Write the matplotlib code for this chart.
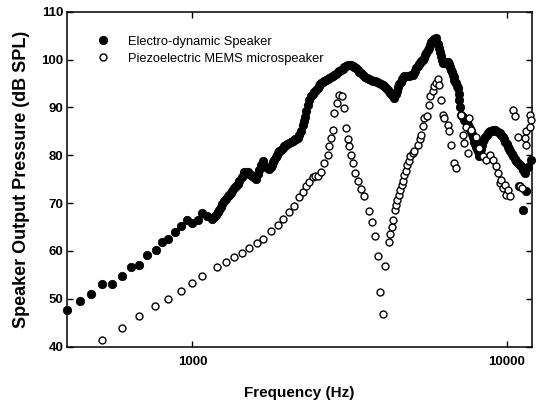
import matplotlib
matplotlib.use("Agg")
import matplotlib.pyplot as plt
from matplotlib.ticker import FixedLocator, NullLocator, FixedFormatter

plt.rcParams['font.family'] = ['Liberation Sans', 'DejaVu Sans']

# Electro-dynamic speaker (frequency Hz, SPL dB)
ed_freq = [400, 438, 477, 517, 556, 599, 637, 677, 719, 764, 803, 839, 881, 919, 960,
           1000, 1040, 1076, 1115, 1158, 1175, 1190, 1203, 1216, 1230, 1245, 1262, 1278,
           1294, 1310, 1325, 1341, 1358, 1375, 1392, 1409, 1435, 1461, 1480, 1500, 1518,
           1535, 1550, 1565, 1580, 1592, 1612, 1631, 1655, 1680, 1710, 1735, 1755, 1772,
           1790, 1805, 1820, 1838, 1855, 1872, 1888, 1910, 1935, 1960, 1984, 2005, 2030,
           2055, 2082, 2100, 2120, 2140, 2160, 2185, 2214, 2240, 2262, 2285, 2305, 2324,
           2355, 2383, 2410, 2440, 2470, 2501, 2525, 2550, 2572, 2594, 2627, 2660, 2693,
           2726, 2758, 2790, 2826, 2862, 2896, 2930, 2967, 3004, 3042, 3080, 3117, 3155,
           3195, 3235, 3275, 3315, 3355, 3395, 3437, 3479, 3535, 3590, 3645, 3700, 3757,
           3815, 3873, 3932, 3980, 4030, 4080, 4130, 4195, 4260, 4325, 4389, 4430, 4470,
           4510, 4553, 4597, 4640, 4680, 4723, 4795, 4870, 4945, 5020, 5065, 5110, 5160,
           5208, 5255, 5300, 5350, 5402, 5450, 5500, 5550, 5603, 5650, 5700, 5755, 5811,
           5885, 5959, 6030, 6106, 6143, 6180, 6218, 6255, 6312, 6370, 6430, 6488, 6530,
           6570, 6610, 6652, 6690, 6730, 6770, 6815, 6860, 6900, 6940, 6982, 7025, 7069,
           7115, 7158, 7245, 7333, 7400, 7470, 7540, 7606, 7655, 7700, 7750, 7794, 7840,
           7890, 7940, 7990, 8040, 8085, 8135, 8185, 8238, 8290, 8340, 8387, 8465, 8540,
           8620, 8700, 8780, 8860, 8940, 9024, 9140, 9253, 9365, 9480, 9595, 9712, 9805,
           9900, 9987, 10074, 10165, 10260, 10355, 10450, 10580, 10713, 10840, 10975, 11110,
           11250, 11386, 10900, 11246, 11500, 11700, 11900]
ed_spl = [47.7, 49.6, 51.1, 53.0, 53.2, 54.7, 56.6, 57.1, 59.2, 60.3, 61.8, 62.5, 63.9, 65.3, 66.4,
          65.8, 66.5, 67.9, 67.3, 66.6, 67.1, 67.6, 68.1, 68.6, 69.2, 69.8, 70.4, 70.9,
          71.4, 71.8, 72.2, 72.6, 73.1, 73.6, 74.1, 74.6, 75.5, 76.4, 76.4, 76.4, 76.1,
          75.9, 75.6, 75.4, 75.2, 75.0, 76.0, 77.0, 77.9, 78.8, 77.5, 77.3, 77.2, 77.6,
          78.0, 78.6, 79.1, 79.6, 80.0, 80.4, 80.8, 81.1, 81.5, 81.9, 82.2, 82.4, 82.6,
          82.8, 82.9, 83.1, 83.3, 83.5, 83.6, 84.2, 85.0, 86.4, 87.2, 88.0, 89.3, 90.6,
          91.5, 92.3, 92.8, 93.2, 93.7, 94.1, 94.5, 94.8, 95.1, 95.4, 95.6, 95.8, 96.0,
          96.1, 96.3, 96.5, 96.8, 97.0, 97.3, 97.6, 97.9, 98.1, 98.4, 98.6, 98.8, 98.9,
          98.8, 98.6, 98.4, 98.2, 97.9, 97.5, 97.1, 96.7, 96.4, 96.2, 96.0, 95.8, 95.6,
          95.5, 95.3, 95.1, 94.8, 94.6, 94.4, 94.1, 93.6, 93.1, 92.6, 92.0, 92.8, 93.5,
          94.2, 94.9, 95.4, 95.9, 96.2, 96.5, 96.5, 96.6, 96.7, 96.8, 97.2, 97.7, 98.2,
          98.6, 99.0, 99.3, 99.6, 99.9, 100.4, 100.9, 101.4, 102.0, 102.5, 103.0, 103.6, 104.1,
          104.3, 104.4, 103.2, 102.4, 101.6, 100.8, 100.0, 99.3, 99.4, 99.4, 99.4, 99.4, 99.1,
          98.8, 98.4, 97.9, 97.3, 96.8, 96.3, 95.8, 95.4, 95.0, 94.5, 94.1, 92.8, 91.6,
          90.0, 88.5, 87.9, 87.4, 87.0, 86.7, 86.4, 86.0, 85.5, 85.0, 84.4, 83.9, 83.3,
          82.8, 82.3, 81.8, 81.3, 80.8, 80.3, 79.8, 80.5, 81.3, 82.1, 82.9, 83.3, 83.8,
          84.2, 84.6, 84.8, 85.0, 85.1, 85.3, 85.2, 85.0, 84.8, 84.6, 84.3, 83.9, 83.4,
          82.8, 82.3, 81.8, 81.3, 80.8, 80.3, 79.8, 79.3, 78.8, 78.4, 78.0, 77.7,
          77.0, 76.3, 73.5, 68.6, 72.5, 77.5, 79.0]

# Piezoelectric MEMS microspeaker (frequency Hz, SPL dB)
pz_freq = [517, 596, 677, 759, 837, 919, 996, 1076, 1201, 1278, 1358, 1436, 1515, 1599,
           1680, 1777, 1865, 1945, 2022, 2098, 2187, 2240, 2295, 2354, 2411, 2459, 2501,
           2565, 2627, 2691, 2726, 2760, 2793, 2828, 2875, 2917, 2990, 3041, 3079, 3115,
           3155, 3195, 3233, 3298, 3354, 3446, 3523, 3636, 3728, 3810, 3883, 3961, 4028,
           4108, 4209, 4253, 4303, 4350, 4405, 4454, 4487, 4543, 4587, 4631, 4679, 4723,
           4775, 4828, 4881, 4935, 5020, 5083, 5208, 5300, 5339, 5402, 5470, 5563, 5645,
           5702, 5811, 5885, 5959, 6030, 6106, 6182, 6255, 6333, 6488, 6569, 6652, 6815,
           6902, 7158, 7243, 7333, 7425, 7512, 7606, 7700, 7990, 8185, 8387, 8600, 8810,
           9024, 9253, 9361, 9480, 9598, 9712, 9833, 9956, 10074, 10200, 10450, 10580,
           10840, 10975, 11194, 11386, 11530, 11810, 11960, 11530, 11810]
pz_spl = [41.3, 43.9, 46.5, 48.4, 50.0, 51.6, 53.4, 54.7, 56.6, 57.8, 58.7, 59.6, 60.6, 61.7,
          62.5, 64.1, 65.5, 66.7, 68.1, 69.4, 71.2, 72.3, 73.5, 74.5, 75.4, 75.6, 75.6,
          76.6, 78.4, 80.1, 81.9, 83.6, 85.3, 88.8, 90.9, 92.6, 92.3, 89.9, 85.7, 83.3,
          81.9, 80.1, 78.4, 76.3, 74.6, 73.0, 71.4, 68.4, 66.0, 63.1, 58.9, 51.4, 46.8,
          56.9, 61.8, 63.5, 65.1, 66.4, 68.6, 69.7, 70.7, 71.7, 72.7, 73.7, 74.7, 75.8,
          76.8, 77.9, 78.9, 79.8, 80.5, 80.8, 82.2, 83.3, 84.3, 86.1, 87.8, 88.3, 90.6,
          92.3, 93.4, 94.5, 95.0, 95.9, 94.7, 91.6, 88.5, 87.8, 86.4, 85.0, 82.2, 78.4,
          77.3, 88.5, 84.3, 82.6, 86.0, 80.5, 87.8, 85.3, 83.9, 81.5, 79.8, 79.1, 80.1,
          79.1, 77.7, 76.3, 74.2, 74.9, 73.2, 73.8, 71.8, 72.8, 71.4, 89.5, 88.1,
          83.9, 73.5, 73.2, 83.6, 85.0, 88.5, 87.4, 82.2, 86.0]

x_ticks = [1000, 10000]
x_labels = ['1000', '10000']
y_ticks = [40, 50, 60, 70, 80, 90, 100, 110]

fig = plt.figure(figsize=(5.39, 4.03), dpi=100)
ax = fig.add_axes([0.1249, 0.1397, 0.8616, 0.8313])

ax.plot(ed_freq, ed_spl, linestyle='none', marker='o', markersize=6.0,
        markerfacecolor='black', markeredgecolor='black', markeredgewidth=0.6,
        label='Electro-dynamic Speaker', clip_on=False, zorder=3)
ax.plot(pz_freq, pz_spl, linestyle='none', marker='o', markersize=5.0,
        markerfacecolor='white', markeredgecolor='black', markeredgewidth=1.0,
        label='Piezoelectric MEMS microspeaker', clip_on=False, zorder=4)

ax.set_xscale('log')
ax.set_xlim(400, 12000)
ax.set_ylim(40, 110)
ax.xaxis.set_major_locator(FixedLocator(x_ticks))
ax.xaxis.set_major_formatter(FixedFormatter(x_labels))
ax.xaxis.set_minor_locator(NullLocator())
ax.set_yticks(y_ticks)

ax.tick_params(axis='both', which='major', direction='in', length=4, width=1.0,
               top=True, right=True, labelsize=9.5)
ax.tick_params(axis='x', pad=7)
ax.tick_params(axis='y', pad=3)
for lab in ax.get_xticklabels() + ax.get_yticklabels():
    lab.set_fontweight('bold')
for sp in ax.spines.values():
    sp.set_linewidth(1.1)

ax.set_xlabel('Frequency (Hz)', fontsize=11, fontweight='bold', labelpad=13)
ax.set_ylabel('Speaker Output Pressure (dB SPL)', fontsize=13, fontweight='bold', labelpad=8)

ax.legend(loc='upper left', bbox_to_anchor=(0.063, 0.929), frameon=False, fontsize=9.3,
          handlelength=1.0, handletextpad=1.45, borderpad=0, borderaxespad=0,
          labelspacing=0.4)

fig.savefig('out.png', dpi=100)
